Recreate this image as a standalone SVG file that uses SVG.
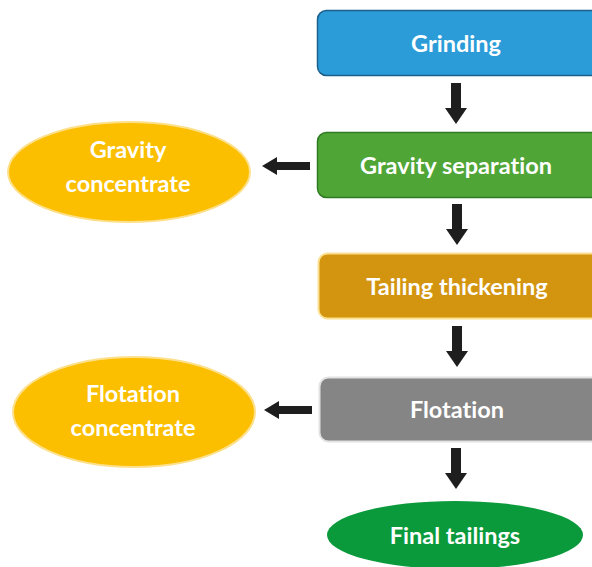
<svg xmlns="http://www.w3.org/2000/svg" width="592" height="567" viewBox="0 0 592 567">
  <style>
    .lbl { font-family: Lato, "Open Sans", "Liberation Sans", sans-serif; font-weight: bold; font-size: 23.5px; fill: #ffffff; text-anchor: middle; font-variant-ligatures: none; }
    .arrow { fill: #1e1e1e; }
  </style>
  <defs>
    <!-- block arrow pointing down, tip at origin -->
    <path id="down" d="M-5,-41 H5 V-16 H11 L0,0 L-11,-16 H-5 Z"/>
    <!-- block arrow pointing left, tip at origin -->
    <path id="left" d="M0,0 L15,-9 V-4 H48 V4 H15 V9 Z"/>
  </defs>
  <rect width="592" height="567" fill="#ffffff"/>

  <g id="grinding">
    <rect x="317.5" y="10.5" width="284" height="65" rx="9" fill="#2b9cd8" stroke="#1d5f8c" stroke-width="1.5"/>
    <text class="lbl" x="456" y="52">Grinding</text>
  </g>

  <g id="gravity-separation">
    <rect x="317.5" y="132.5" width="284" height="65" rx="9" fill="#4fa637" stroke="#2f7b23" stroke-width="1.5"/>
    <text class="lbl" x="456" y="174">Gravity separation</text>
  </g>

  <g id="gravity-concentrate">
    <ellipse cx="129" cy="172" rx="121" ry="50" fill="#fbbf00" stroke="#fde08c" stroke-width="2"/>
    <text class="lbl" x="128" y="158">Gravity</text>
    <text class="lbl" x="128" y="192">concentrate</text>
  </g>

  <g id="tailing-thickening">
    <rect x="318.5" y="253.5" width="284" height="65" rx="9" fill="#d3950f" stroke="#fbe08f" stroke-width="2"/>
    <text class="lbl" x="457" y="295">Tailing thickening</text>
  </g>

  <g id="flotation">
    <rect x="319.5" y="377.5" width="284" height="64" rx="9" fill="#858585" stroke="#e2e2e2" stroke-width="2"/>
    <text class="lbl" x="457" y="418">Flotation</text>
  </g>

  <g id="flotation-concentrate">
    <ellipse cx="134" cy="412" rx="121" ry="55" fill="#fbbf00" stroke="#fde08c" stroke-width="2"/>
    <text class="lbl" x="133" y="402">Flotation</text>
    <text class="lbl" x="133" y="436">concentrate</text>
  </g>

  <g id="final-tailings">
    <ellipse cx="455" cy="535" rx="128" ry="34" fill="#0a9a3c"/>
    <text class="lbl" x="455" y="544">Final tailings</text>
  </g>

  <g id="connectors" class="arrow">
    <use href="#down" x="456" y="124"/>
    <use href="#down" x="457" y="245"/>
    <use href="#down" x="457" y="367"/>
    <use href="#down" x="456" y="489"/>
    <use href="#left" x="262" y="166"/>
    <use href="#left" x="264" y="410"/>
  </g>
</svg>
